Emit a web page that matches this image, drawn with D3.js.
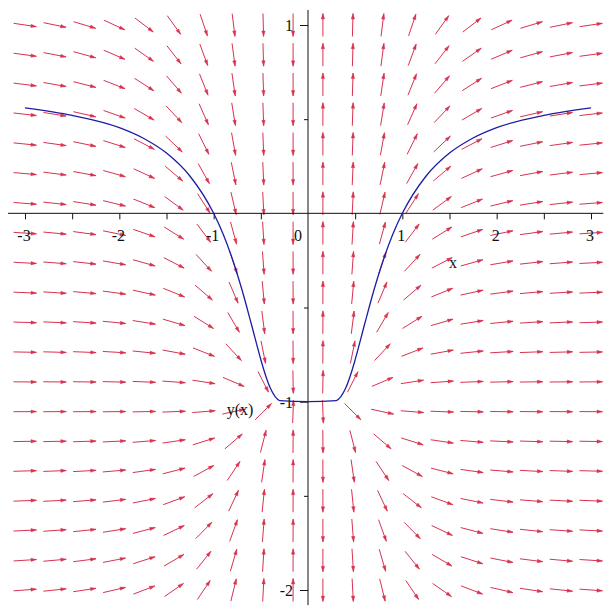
<!DOCTYPE html>
<html>
<head>
<meta charset="utf-8">
<script src="https://cdn.jsdelivr.net/npm/d3@7"></script>
<style>
  html, body { margin: 0; padding: 0; background: #fff; }
  svg { display: block; }
  text { font-family: "Liberation Serif", "DejaVu Serif", serif; fill: #111; }
</style>
</head>
<body>
<script>
// Direction field of dy/dx = (y + 1) / x^3 with one solution curve through (1, 0).

// Grid of field sample points (20 x 20)
const fieldX = [-3, -2.684, -2.368, -2.053, -1.737, -1.421, -1.105, -0.789, -0.474, -0.158,
                0.158, 0.474, 0.789, 1.105, 1.421, 1.737, 2.053, 2.368, 2.684, 3];
const fieldY = [1, 0.842, 0.684, 0.526, 0.368, 0.211, 0.053, -0.105, -0.263, -0.421,
                -0.579, -0.737, -0.895, -1.053, -1.211, -1.368, -1.526, -1.684, -1.842, -2];

// Solution curve y(x)
const curveX = [-3, -2.5, -2, -1.75, -1.5, -1.25, -1, -0.9, -0.8, -0.7, -0.6, -0.5, -0.45, -0.4,
                -0.35, -0.3, 0, 0.3, 0.35, 0.4, 0.45, 0.5, 0.6, 0.7, 0.8, 0.9, 1, 1.25, 1.5,
                1.75, 2, 2.5, 3];
const curveY = [0.56, 0.52, 0.455, 0.40, 0.32, 0.197, 0, -0.11, -0.245, -0.406, -0.589, -0.777,
                -0.86, -0.928, -0.972, -0.994, -1, -0.994, -0.972, -0.928, -0.86, -0.777,
                -0.589, -0.406, -0.245, -0.11, 0, 0.197, 0.32, 0.40, 0.455, 0.52, 0.56];

// Axis ticks and labels
const xTicks = [-3, -2.5, -2, -1.5, -1, -0.5, 0.5, 1, 1.5, 2, 2.5, 3];
const xTickLabels = ["-3", "-2", "-1", "0", "1", "2", "3"];
const xLabelValues = [-3, -2, -1, 0, 1, 2, 3];
const yTicks = [1, 0.5, -0.5, -1, -1.5, -2];
const yTickLabels = ["1", "-1", "-2"];
const yLabelValues = [1, -1, -2];

const W = 611, H = 610;
const svg = d3.select("body").append("svg").attr("width", W).attr("height", H);

const x = d3.scaleLinear().domain([-3, 3]).range([25, 591]);
const y = d3.scaleLinear().domain([-2, 1]).range([590, 25]);

// slope field from the ODE
const slope = (px, py) => (py + 1) / (px * px * px);

const arrowLen = 23, headLen = 5.5, headHalf = 1.7;
const arrowColor = "#d8324f";

const cells = [];
fieldX.forEach(fx => fieldY.forEach(fy => cells.push({ fx, fy })));

const gField = svg.append("g");
cells.forEach(c => {
  const s = slope(c.fx, c.fy);
  // direction in screen space
  let dx = x(c.fx + 1) - x(c.fx);
  let dy = y(c.fy + s) - y(c.fy);
  const n = Math.hypot(dx, dy);
  dx /= n; dy /= n;
  const cx = x(c.fx), cy = y(c.fy);
  const x0 = cx - dx * arrowLen / 2, y0 = cy - dy * arrowLen / 2;
  const x1 = cx + dx * arrowLen / 2, y1 = cy + dy * arrowLen / 2;
  gField.append("line")
    .attr("x1", x0).attr("y1", y0).attr("x2", x1).attr("y2", y1)
    .attr("stroke", arrowColor).attr("stroke-width", 1);
  const bx = x1 - dx * headLen, by = y1 - dy * headLen;
  const nx = -dy, ny = dx;
  gField.append("path")
    .attr("d", `M${x1},${y1}L${bx + nx * headHalf},${by + ny * headHalf}L${bx - nx * headHalf},${by - ny * headHalf}Z`)
    .attr("fill", arrowColor).attr("stroke", arrowColor).attr("stroke-width", 0.4);
});

// Axes
const gAxes = svg.append("g").attr("stroke", "#111").attr("stroke-width", 1);
gAxes.append("line")
  .attr("x1", x(-3.18)).attr("x2", x(3.13)).attr("y1", y(0)).attr("y2", y(0));
gAxes.append("line")
  .attr("x1", x(0)).attr("x2", x(0)).attr("y1", y(1.08)).attr("y2", y(-2.08));

const xAxis = d3.axisBottom(x).tickValues(xTicks).tickSize(6).tickFormat("");
svg.append("g").attr("transform", `translate(0,${y(0)})`).call(xAxis)
  .call(g => g.select(".domain").remove())
  .call(g => g.selectAll(".tick line").attr("stroke", "#111"));

const yAxis = d3.axisLeft(y).tickValues(yTicks).tickFormat("")
  .tickSize(8);
svg.append("g").attr("transform", `translate(${x(0)},0)`).call(yAxis)
  .call(g => g.select(".domain").remove())
  .call(g => g.selectAll(".tick line")
    .attr("stroke", "#111")
    .attr("x2", d => Number.isInteger(d) ? -8 : -4));

// Tick labels
const gLab = svg.append("g").style("font-size", "16px");
xLabelValues.forEach((v, i) => {
  gLab.append("text")
    .attr("x", x(v) - (v === 0 ? 10 : 1))
    .attr("y", y(0) + 28)
    .attr("text-anchor", "middle")
    .text(xTickLabels[i]);
});
yLabelValues.forEach((v, i) => {
  gLab.append("text")
    .attr("x", x(0) - 15)
    .attr("y", y(v) + 6)
    .attr("text-anchor", "end")
    .text(yTickLabels[i]);
});

// Solution curve
const pts = curveX.map((v, i) => [v, curveY[i]]);
svg.append("path")
  .datum(pts)
  .attr("fill", "none")
  .attr("stroke", "#1c1ca6")
  .attr("stroke-width", 1.3)
  .attr("d", d3.line().x(d => x(d[0])).y(d => y(d[1])).curve(d3.curveMonotoneX));

// Axis labels
svg.append("text").attr("x", 453).attr("y", 268).attr("text-anchor", "middle")
  .style("font-size", "16px").text("x");
svg.append("text").attr("x", 240).attr("y", 415).attr("text-anchor", "middle")
  .style("font-size", "16px").text("y(x)");
</script>
</body>
</html>
